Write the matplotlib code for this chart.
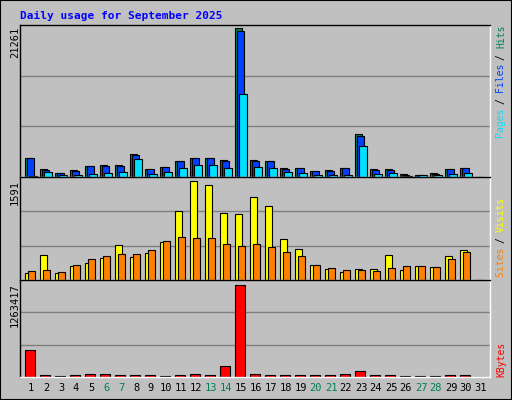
import matplotlib
matplotlib.use("Agg")
import matplotlib.pyplot as plt
from matplotlib.patches import Rectangle

days = list(range(1, 32))
hits = [2645,1202,625,1058,1636,1780,1780,3223,1202,1491,2213,2645,2645,2357,21261,2357,2213,1347,1347,914,1058,1347,6109,1202,1202,481,337,625,1202,1347,0]
files = [2645,1058,529,866,1539,1539,1636,3078,1202,1491,2213,2645,2645,2213,20828,2213,2213,1202,1347,914,914,1347,5820,1058,1058,337,337,481,1202,1347,0]
pages = [96,722,337,337,481,625,770,2501,481,770,1347,1780,1780,1347,11881,1491,1347,770,625,337,337,337,4377,481,625,192,337,337,481,625,0]
visits = [109,402,109,230,281,350,557,368,436,609,1108,1591,1522,1074,1057,1333,1195,661,505,247,178,126,178,178,402,161,230,212,385,488,0]
sites = [144,161,126,247,333,385,419,419,488,626,695,678,678,574,540,574,523,454,385,247,195,161,161,144,195,230,230,212,333,454,0]
kbytes = [368883,32277,13833,32277,46110,46110,32277,32277,32277,18444,32277,46110,32277,156774,1263417,46110,32277,32277,32277,32277,32277,46110,87609,32277,32277,13833,13833,13833,32277,32277,0]
weekend = [6, 7, 13, 14, 20, 21, 27, 28]

W, H = 512, 400
fig = plt.figure(figsize=(W/100, H/100), dpi=100)
fig.patch.set_facecolor("#c0c0c0")
mono = "DejaVu Sans Mono"

def ax_px(x0, y0, x1, y1):
    return fig.add_axes([x0/W, 1-y1/H, (x1-x0)/W, (y1-y0)/H])

def style(ax, ymax):
    ax.set_facecolor("#c0c0c0")
    ax.set_xlim(0.27, 31.6)
    ax.set_ylim(0, ymax)
    ax.set_xticks([]); ax.set_yticks([])
    for y in (ymax/3, 2*ymax/3):
        ax.axhline(y, color="#808080", lw=1, zorder=0)
    for s in ("top", "left"):
        ax.spines[s].set_color("black")
    for s in ("bottom", "right"):
        ax.spines[s].set_color("white")
    for s in ax.spines.values():
        s.set_linewidth(1)

def bars(ax, offs, width, vals, color):
    ax.bar([d + offs for d in days], vals, width=width, align="edge",
           color=color, edgecolor="black", linewidth=0.8, zorder=2)

ax1 = ax_px(20, 25, 490, 177)
style(ax1, 21261*450/442)
bars(ax1, -0.4, 0.5, hits, "#00805c")
bars(ax1, -0.27, 0.5, files, "#0040ff")
bars(ax1, -0.1, 0.5, pages, "#00e0ff")

ax2 = ax_px(20, 177, 490, 280)
style(ax2, 1591*288/277)
bars(ax2, -0.4, 0.5, visits, "#ffff00")
bars(ax2, -0.2, 0.5, sites, "#ff8000")

ax3 = ax_px(20, 280, 490, 377)
style(ax3, 1263417*290/274)
bars(ax3, -0.4, 0.7, kbytes, "#ff0000")

fig.add_artist(Rectangle((0, 0), 1, 1, transform=fig.transFigure, fill=False,
                         edgecolor="black", lw=1.5))

fig.text(20/W, 1-16/H, "Daily usage for September 2025", color="#0000ff",
         family=mono, fontweight="bold", fontsize=8, va="center", ha="left")

for lab, ytop in (("21261", 27), ("1591", 180), ("1263417", 283)):
    fig.text(15/W, 1-ytop/H, lab, rotation=90, family=mono, fontsize=7.5,
             va="top", ha="center")

for d in days:
    x = 31 + 15*(d-1)
    fig.text(x/W, 1-388/H, str(d), family=mono, fontsize=7.5, ha="center",
             va="center", color="#00805c" if d in weekend else "black")

def right_label(parts, ybottom, step=5.6):
    y = ybottom
    for txt, col in parts:
        fig.text(501/W, 1-y/H, txt, rotation=90, family=mono, fontsize=7,
                 color=col, ha="center", va="bottom")
        y -= len(txt)*step

right_label([("Pages ", "#00e0ff"), ("/ ", "black"), ("Files ", "#0040ff"),
             ("/ ", "black"), ("Hits", "#00805c")], 138)
right_label([("Sites ", "#ff8000"), ("/ ", "black"), ("Visits", "#ffff00")], 277)
right_label([("KBytes", "#ff0000")], 377)

fig.savefig("out.png", dpi=100, facecolor=fig.get_facecolor())
